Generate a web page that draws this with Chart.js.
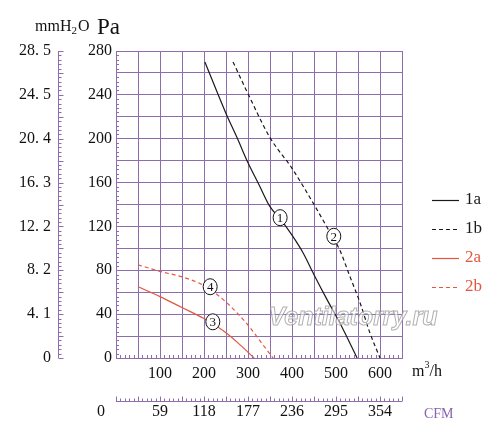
<!DOCTYPE html>
<html>
<head>
<meta charset="utf-8">
<script src="https://cdn.jsdelivr.net/npm/chart.js@4.4.1/dist/chart.umd.min.js"></script>
<style>
  html, body { margin: 0; padding: 0; background: #fff; }
  #wrap { width: 500px; height: 434px; }
</style>
</head>
<body>
<div id="wrap"><canvas id="chart" width="500" height="434"></canvas></div>
<script>
  // curve data (flow m3/h, pressure Pa)
  const flow1a = [202, 250, 275, 300, 325, 350, 375, 400, 425, 450, 480, 510, 548];
  const pa1a = [270, 223, 201, 178, 158, 138, 126, 112, 96, 76, 53, 31, 0];
  const flow1b = [266, 300, 350, 400, 450, 480, 509, 532, 555, 577, 600];
  const pa1b = [270, 241, 201, 173, 140, 119, 98, 74, 50, 23, 0];
  const flow2a = [50, 100, 150, 200, 250, 282, 314];
  const pa2a = [65, 56, 46, 36, 23, 12, 0];
  const flow2b = [50, 100, 150, 200, 250, 300, 334, 357];
  const pa2b = [85, 79, 74, 66, 51, 30, 12, 0];

  const seriesNames = ["1a", "1b", "2a", "2b"];

  // secondary axes
  const paTicks = [0, 40, 80, 120, 160, 200, 240, 280];
  const mmTicks = ["0", "4. 1", "8. 2", "12. 2", "16. 3", "20. 4", "24. 5", "28. 5"];
  const cfmFlow = [0, 100, 200, 300, 400, 500, 600];
  const cfmTicks = ["0", "59", "118", "177", "236", "295", "354"];

  // circled curve numbers
  const markerNames = ["1", "2", "3", "4"];
  const markerFlow = [373, 495, 220, 214];
  const markerPa = [128, 111, 33, 65];

  const colors = {
    grid: "#8d6dae",
    black: "#1a1a1a",
    red: "#e4573f",
    cfm: "#8a62b0",
  };
  const serif = "'Liberation Serif', 'DejaVu Serif', serif";

  const toXY = (xs, ys) => xs.map((x, i) => ({ x: x, y: ys[i] }));

  const extras = {
    id: "extras",
    afterDraw(chart) {
      const ctx = chart.ctx;
      const x = chart.scales.x;
      const y = chart.scales.y;
      const a = chart.chartArea;
      ctx.save();
      ctx.strokeStyle = colors.grid;
      ctx.lineWidth = 1;

      // minor ticks on the Pa axis and the flow axis
      ctx.beginPath();
      for (let v = 0; v <= 280; v += 4) {
        if (v % 20 === 0) continue;
        const py = Math.round(y.getPixelForValue(v)) + 0.5;
        ctx.moveTo(a.left, py);
        ctx.lineTo(a.left + 3, py);
      }
      for (let v = 0; v <= 650; v += 10) {
        if (v % 50 === 0) continue;
        const px = Math.round(x.getPixelForValue(v)) + 0.5;
        ctx.moveTo(px, a.bottom);
        ctx.lineTo(px, a.bottom - 3);
      }
      ctx.stroke();

      // mmH2O axis
      const mx = 58.5;
      ctx.beginPath();
      ctx.moveTo(mx, a.top);
      ctx.lineTo(mx, a.bottom);
      for (let v = 0; v <= 280; v += 4) {
        const py = Math.round(y.getPixelForValue(v)) + 0.5;
        ctx.moveTo(mx, py);
        ctx.lineTo(mx + (v % 20 === 0 ? 5 : 3), py);
      }
      ctx.stroke();

      // CFM axis
      const cy = 401.5;
      ctx.beginPath();
      ctx.moveTo(a.left, cy);
      ctx.lineTo(a.right, cy);
      for (let v = 0; v <= 650; v += 10) {
        const px = Math.round(x.getPixelForValue(v)) + 0.5;
        ctx.moveTo(px, cy);
        ctx.lineTo(px, cy - (v % 50 === 0 ? 5 : 3));
      }
      ctx.stroke();

      ctx.fillStyle = "#111";
      ctx.font = "16px " + serif;
      ctx.textBaseline = "middle";
      ctx.textAlign = "right";
      mmTicks.forEach((t, i) => {
        ctx.fillText(t, 51, y.getPixelForValue(paTicks[i]));
      });
      ctx.textAlign = "center";
      cfmTicks.forEach((t, i) => {
        const px = i === 0 ? 101 : x.getPixelForValue(cfmFlow[i]);
        ctx.fillText(t, px, 412);
      });

      // axis titles
      ctx.textAlign = "left";
      ctx.textBaseline = "alphabetic";
      ctx.font = "16px " + serif;
      ctx.fillText("mmH", 35, 31);
      let w = ctx.measureText("mmH").width;
      ctx.font = "11px " + serif;
      ctx.fillText("2", 35 + w, 34);
      const w2 = ctx.measureText("2").width;
      ctx.font = "16px " + serif;
      ctx.fillText("O", 35 + w + w2 + 1, 31);
      ctx.font = "23px " + serif;
      ctx.fillText("Pa", 97, 34);

      ctx.font = "16px " + serif;
      ctx.fillText("m", 412, 376);
      w = ctx.measureText("m").width;
      ctx.font = "10px " + serif;
      ctx.fillText("3", 412 + w, 368);
      ctx.font = "16px " + serif;
      ctx.fillText("/h", 412 + w + 5, 376);

      ctx.fillStyle = colors.cfm;
      ctx.font = "14px " + serif;
      ctx.fillText("CFM", 424, 418);

      // legend
      const legendY = [200, 229, 258, 287];
      const legendColor = [colors.black, colors.black, colors.red, colors.red];
      const legendDash = [[], [4, 3], [], [4, 3]];
      seriesNames.forEach((n, i) => {
        ctx.strokeStyle = legendColor[i];
        ctx.setLineDash(legendDash[i]);
        ctx.lineWidth = 1.2;
        ctx.beginPath();
        ctx.moveTo(432, legendY[i] + 0.5);
        ctx.lineTo(459, legendY[i] + 0.5);
        ctx.stroke();
        ctx.setLineDash([]);
        ctx.fillStyle = legendColor[i];
        ctx.font = "17px " + serif;
        ctx.textBaseline = "middle";
        ctx.fillText(n, 465, legendY[i]);
      });

      // circled numbers
      ctx.strokeStyle = "#111";
      ctx.lineWidth = 1;
      ctx.textAlign = "center";
      ctx.font = "13px " + serif;
      markerNames.forEach((n, i) => {
        const px = x.getPixelForValue(markerFlow[i]);
        const py = y.getPixelForValue(markerPa[i]);
        ctx.beginPath();
        ctx.ellipse(px, py, 7, 8, 0, 0, Math.PI * 2);
        ctx.fillStyle = "#fff";
        ctx.fill();
        ctx.stroke();
        ctx.fillStyle = "#111";
        ctx.fillText(n, px, py + 1);
      });

      // watermark
      ctx.font = "italic bold 25px 'Liberation Sans', Arial, sans-serif";
      ctx.textAlign = "center";
      ctx.fillStyle = "rgba(255,255,255,0.55)";
      ctx.strokeStyle = "rgba(150,150,150,0.75)";
      ctx.lineWidth = 1;
      ctx.fillText("Ventilatorry.ru", 353, 318);
      ctx.strokeText("Ventilatorry.ru", 353, 318);
      ctx.restore();
    },
  };

  const lineSet = (label, xs, ys, color, dash) => ({
    label: label,
    data: toXY(xs, ys),
    borderColor: color,
    borderWidth: 1.2,
    borderDash: dash,
    pointRadius: 0,
    fill: false,
    cubicInterpolationMode: "monotone",
  });

  new Chart(document.getElementById("chart"), {
    type: "line",
    data: {
      datasets: [
        lineSet(seriesNames[0], flow1a, pa1a, colors.black, []),
        lineSet(seriesNames[1], flow1b, pa1b, colors.black, [4, 3]),
        lineSet(seriesNames[2], flow2a, pa2a, colors.red, []),
        lineSet(seriesNames[3], flow2b, pa2b, colors.red, [4, 3]),
      ],
    },
    options: {
      responsive: false,
      animation: false,
      layout: { padding: { top: 51, right: 98, left: 0, bottom: 0 } },
      plugins: { legend: { display: false }, tooltip: { enabled: false } },
      scales: {
        x: {
          type: "linear",
          min: 0,
          max: 650,
          afterFit: (s) => { s.height = 76; },
          grid: { color: colors.grid, drawTicks: false },
          border: { color: colors.grid },
          ticks: {
            stepSize: 50,
            autoSkip: false,
            maxRotation: 0,
            padding: 6,
            color: "#111",
            font: { family: serif, size: 16 },
            callback: (v) => (v % 100 === 0 && v > 0 && v < 650 ? v : ""),
          },
        },
        y: {
          min: 0,
          max: 280,
          afterFit: (s) => { s.width = 116; },
          grid: { color: colors.grid, drawTicks: false },
          border: { color: colors.grid },
          ticks: {
            stepSize: 20,
            autoSkip: false,
            padding: 4,
            color: "#111",
            font: { family: serif, size: 16 },
            callback: (v) => (v % 40 === 0 ? v : ""),
          },
        },
      },
    },
    plugins: [extras],
  });
</script>
</body>
</html>
